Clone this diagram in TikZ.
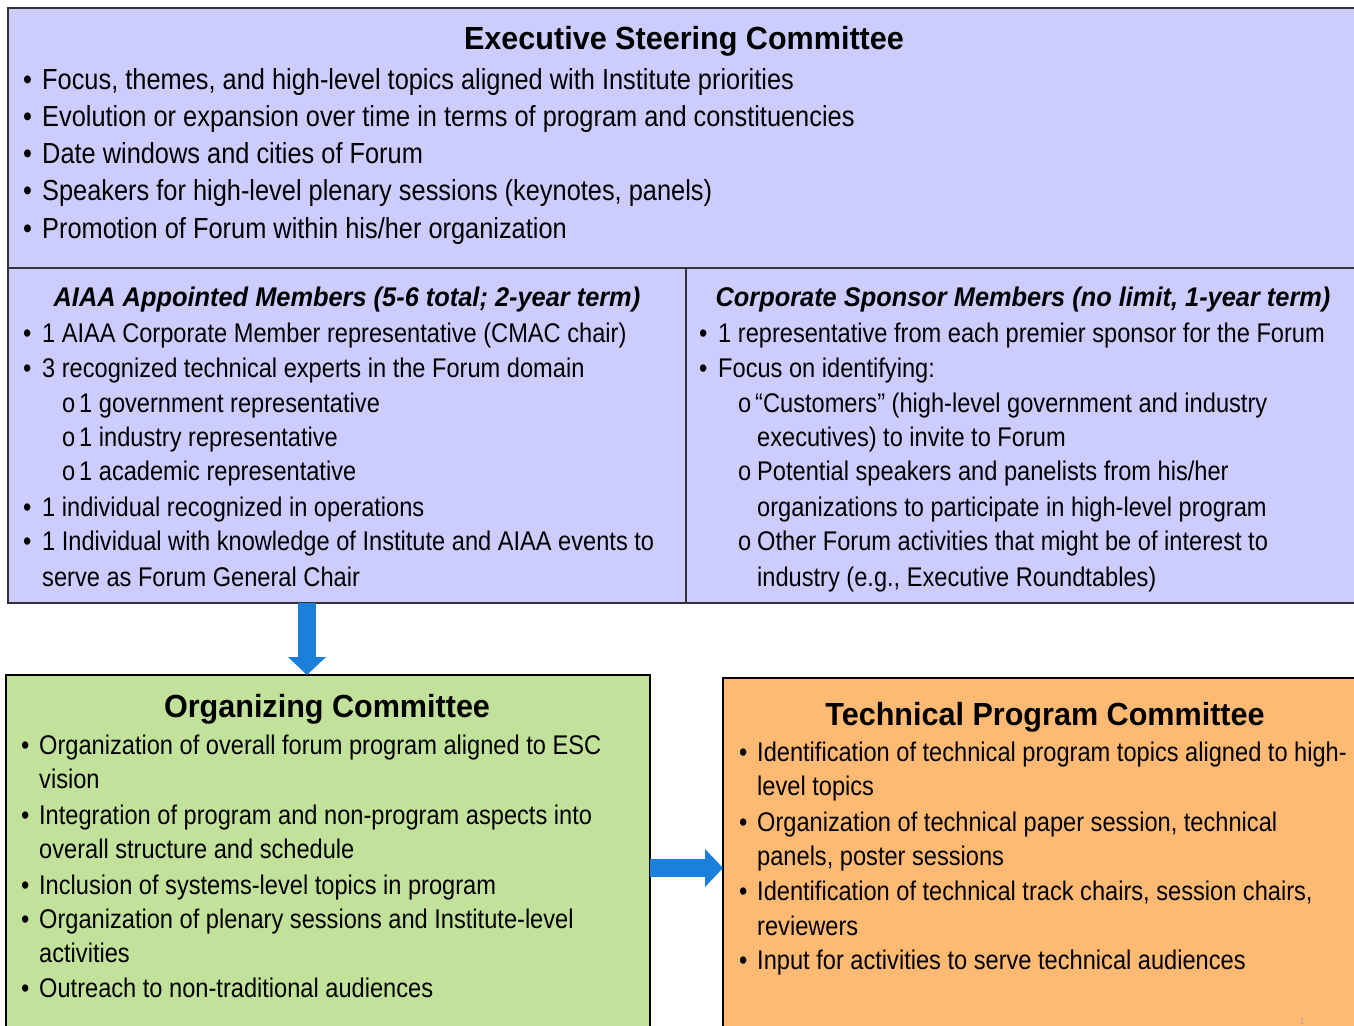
\documentclass[tikz,border=0pt]{standalone}
\usepackage{fontspec}
\usetikzlibrary{arrows.meta}
\newfontfamily\bodyf[FakeStretch=0.875]{Liberation Sans}
\newfontfamily\titlef[FakeStretch=0.955]{Liberation Sans}
\newfontfamily\headf[FakeStretch=0.94]{Liberation Sans}
\definecolor{lav}{RGB}{204,204,255}
\definecolor{grn}{RGB}{194,225,155}
\definecolor{org}{RGB}{254,186,115}
\definecolor{arrowblue}{RGB}{27,127,219}
\definecolor{bord}{RGB}{50,50,55}
\newcommand{\myb}[2]{\makebox[#1pt][l]{\textbullet}#2}
\newcommand{\myo}[2]{\makebox[#1pt][l]{o}#2}
\begin{document}
\begin{tikzpicture}[x=1pt,y=-1pt,
  box/.style={draw=bord, line width=2pt, anchor=north west, inner sep=0pt, outer sep=0pt},
  ln/.style={anchor=base west, inner sep=0pt, font=\bodyf\fontsize{27}{30}\selectfont},
  tl/.style={anchor=base west, inner sep=0pt, font=\bodyf\fontsize{29}{32}\selectfont},
  ttl/.style={anchor=base, inner sep=0pt, font=\titlef\bfseries\fontsize{32}{36}\selectfont},
  hd/.style={anchor=base, inner sep=0pt, font=\headf\bfseries\itshape\fontsize{27}{30}\selectfont},
  bigarrow/.style={line width=18pt, draw=arrowblue, -{Triangle[width=37pt,length=18pt]}}]
\useasboundingbox (0,0) rectangle (1354,1025);
\clip (0,0) rectangle (1354,1025);
\fill[white] (0,0) rectangle (1354,1025);
% boxes
\node[box, fill=lav, minimum width=1360pt, minimum height=260pt] (esc) at (8,8) {};
\node[box, fill=lav, minimum width=678pt, minimum height=335pt] (aiaa) at (8,268) {};
\node[box, fill=lav, minimum width=690pt, minimum height=335pt] (corp) at (686,268) {};
\node[box, draw=black, line width=1.6pt, fill=grn, minimum width=644pt, minimum height=370pt] (orgc) at (6,675) {};
\node[box, draw=black, line width=1.6pt, fill=org, minimum width=650pt, minimum height=370pt] (tpc) at (723,678) {};
% arrows
\coordinate (ax) at (307,0);
\coordinate (ay) at (0,868);
\draw[bigarrow] (aiaa.south -| ax) -- (orgc.north -| ax);
\draw[bigarrow] (orgc.east |- ay) -- (tpc.west |- ay);
% ESC text
\node[ttl] (esct) at (684,50) {Executive Steering Committee};
\node[tl] (e1) at (23,89) {\myb{19}{Focus, themes, and high-level topics aligned with Institute priorities}};
\node[tl] (e2) at (23,126) {\myb{19}{Evolution or expansion over time in terms of program and constituencies}};
\node[tl] (e3) at (23,163) {\myb{19}{Date windows and cities of Forum}};
\node[tl] (e4) at (23,200) {\myb{19}{Speakers for high-level plenary sessions (keynotes, panels)}};
\node[tl] (e5) at (23,238) {\myb{19}{Promotion of Forum within his/her organization}};
% AIAA column
\node[hd] (aiaat) at (347,306) {AIAA Appointed Members (5-6 total; 2-year term)};
\node[ln] (a1) at (23,342) {\myb{19}{1 AIAA Corporate Member representative (CMAC chair)}};
\node[ln] (a2) at (23,377) {\myb{19}{3 recognized technical experts in the Forum domain}};
\node[ln] (a3) at (62,412) {\myo{17}{1 government representative}};
\node[ln] (a4) at (62,446) {\myo{17}{1 industry representative}};
\node[ln] (a5) at (62,480) {\myo{17}{1 academic representative}};
\node[ln] (a6) at (23,516) {\myb{19}{1 individual recognized in operations}};
\node[ln] (a7) at (23,550) {\myb{19}{1 Individual with knowledge of Institute and AIAA events to}};
\node[ln] (a8) at (42,586) {serve as Forum General Chair};
% Corporate column
\node[hd] (corpt) at (1023,306) {Corporate Sponsor Members (no limit, 1-year term)};
\node[ln] (c1) at (699,342) {\myb{19}{1 representative from each premier sponsor for the Forum}};
\node[ln] (c2) at (699,377) {\myb{19}{Focus on identifying:}};
\node[ln] (c3) at (738,412) {\myo{17}{“Customers” (high-level government and industry}};
\node[ln] (c4) at (757,446) {executives) to invite to Forum};
\node[ln] (c5) at (738,480) {\myo{19}{Potential speakers and panelists from his/her}};
\node[ln] (c6) at (757,516) {organizations to participate in high-level program};
\node[ln] (c7) at (738,550) {\myo{19}{Other Forum activities that might be of interest to}};
\node[ln] (c8) at (757,586) {industry (e.g., Executive Roundtables)};
% Organizing
\node[ttl] (orgt) at (327,717) {Organizing Committee};
\node[ln] (o1) at (21,754) {\myb{18}{Organization of overall forum program aligned to ESC}};
\node[ln] (o2) at (39,788) {vision};
\node[ln] (o3) at (21,824) {\myb{18}{Integration of program and non-program aspects into}};
\node[ln] (o4) at (39,858) {overall structure and schedule};
\node[ln] (o5) at (21,894) {\myb{18}{Inclusion of systems-level topics in program}};
\node[ln] (o6) at (21,928) {\myb{18}{Organization of plenary sessions and Institute-level}};
\node[ln] (o7) at (39,962) {activities};
\node[ln] (o8) at (21,997) {\myb{18}{Outreach to non-traditional audiences}};
% TPC
\node[ttl] (tpct) at (1045,725) {Technical Program Committee};
\node[ln] (p1) at (739,761) {\myb{18}{Identification of technical program topics aligned to high-}};
\node[ln] (p2) at (757,795) {level topics};
\node[ln] (p3) at (739,831) {\myb{18}{Organization of technical paper session, technical}};
\node[ln] (p4) at (757,865) {panels, poster sessions};
\node[ln] (p5) at (739,900) {\myb{18}{Identification of technical track chairs, session chairs,}};
\node[ln] (p6) at (757,935) {reviewers};
\node[ln] (p7) at (739,969) {\myb{18}{Input for activities to serve technical audiences}};
\node[anchor=base, inner sep=0pt, font=\bodyf\fontsize{9}{10}\selectfont, text=black!35] (pg) at (1302,1024) {1};
\end{tikzpicture}
\end{document}
